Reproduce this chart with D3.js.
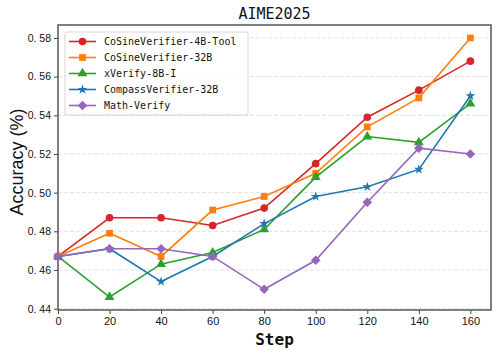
<!DOCTYPE html>
<html>
<head>
<meta charset="utf-8">
<script src="https://cdn.jsdelivr.net/npm/d3@7"></script>
<style>
  body { margin: 0; background: #fff; }
</style>
</head>
<body>
<div id="chart"></div>
<script>
// ---- data ----
const steps = [0, 20, 40, 60, 80, 100, 120, 140, 160];
const seriesNames = ["CoSineVerifier-4B-Tool", "CoSineVerifier-32B", "xVerify-8B-I", "CompassVerifier-32B", "Math-Verify"];
const cosine4bTool = [0.467, 0.487, 0.487, 0.483, 0.492, 0.515, 0.539, 0.553, 0.568];
const cosine32b    = [0.467, 0.479, 0.467, 0.491, 0.498, 0.510, 0.534, 0.549, 0.580];
const xverify8b    = [0.467, 0.446, 0.463, 0.469, 0.481, 0.508, 0.529, 0.526, 0.546];
const compass32b   = [0.467, 0.471, 0.454, 0.467, 0.484, 0.498, 0.503, 0.512, 0.550];
const mathVerify   = [0.467, 0.471, 0.471, 0.467, 0.450, 0.465, 0.495, 0.523, 0.520];
const yTicks = [0.44, 0.46, 0.48, 0.50, 0.52, 0.54, 0.56, 0.58];
const xTicks = [0, 20, 40, 60, 80, 100, 120, 140, 160];

const colors = ["#d62728", "#ff7f0e", "#2ca02c", "#1f77b4", "#9467bd"];

// square diamond (matplotlib "D")
const squareDiamond = {
  draw(ctx, size) {
    const r = Math.sqrt(size / 2);
    ctx.moveTo(0, -r); ctx.lineTo(r, 0); ctx.lineTo(0, r); ctx.lineTo(-r, 0); ctx.closePath();
  }
};
const symbols = [d3.symbolCircle, d3.symbolSquare, d3.symbolTriangle, d3.symbolStar, squareDiamond];
const symSizes = [46, 46, 42, 30, 46];
const allValues = [cosine4bTool, cosine32b, xverify8b, compass32b, mathVerify];

const series = seriesNames.map((name, i) => ({
  name: name,
  color: colors[i],
  symbol: symbols[i],
  size: symSizes[i],
  values: allValues[i].map((v, j) => ({x: steps[j], y: v}))
}));

// ---- layout ----
const width = 498, height = 353;
const margin = {top: 25, right: 7, bottom: 43, left: 58};
const monoFont = "'DejaVu Sans Mono', monospace";
const sansFont = "'Liberation Sans', Arial, sans-serif";

const svg = d3.create("svg")
  .attr("width", width)
  .attr("height", height);

const xScale = d3.scaleLinear()
  .domain([0, 168])
  .range([margin.left, width - margin.right]);

const yScale = d3.scaleLinear()
  .domain([0.4393, 0.5867])
  .range([height - margin.bottom, margin.top]);

// grid
svg.append("g")
  .selectAll("line")
  .data(yTicks)
  .join("line")
  .attr("x1", margin.left)
  .attr("x2", width - margin.right)
  .attr("y1", d => yScale(d))
  .attr("y2", d => yScale(d))
  .attr("stroke", "#d9d9d9")
  .attr("stroke-width", 0.8)
  .attr("stroke-dasharray", "4,2");

// axes
const xAxis = svg.append("g")
  .attr("transform", `translate(0, ${height - margin.bottom})`)
  .call(d3.axisBottom(xScale).tickValues(xTicks).tickSize(4).tickPadding(3));

const yAxis = svg.append("g")
  .attr("transform", `translate(${margin.left}, 0)`)
  .call(d3.axisLeft(yScale).tickValues(yTicks).tickSize(4).tickPadding(3)
    .tickFormat(d => d3.format(".2f")(d).replace(".", ". ")));

[xAxis, yAxis].forEach(ax => {
  ax.select(".domain").remove();
  ax.selectAll(".tick line").attr("stroke", "#444").attr("stroke-width", 1);
  ax.selectAll(".tick text")
    .attr("fill", "#111")
    .attr("font-family", sansFont)
    .attr("font-size", "11px");
});
yAxis.selectAll(".tick text").attr("font-size", "10.5px");

// frame
svg.append("rect")
  .attr("x", margin.left)
  .attr("y", margin.top)
  .attr("width", width - margin.left - margin.right)
  .attr("height", height - margin.top - margin.bottom)
  .attr("fill", "none")
  .attr("stroke", "#555")
  .attr("stroke-width", 1.5);

// lines + markers
const line = d3.line()
  .x(d => xScale(d.x))
  .y(d => yScale(d.y));

const groups = svg.append("g")
  .selectAll("g")
  .data(series)
  .join("g");

groups.append("path")
  .attr("d", d => line(d.values))
  .attr("fill", "none")
  .attr("stroke", d => d.color)
  .attr("stroke-width", 1.6);

groups.each(function(s) {
  d3.select(this).selectAll("path.mk")
    .data(s.values)
    .join("path")
    .attr("class", "mk")
    .attr("transform", d => `translate(${xScale(d.x)}, ${yScale(d.y)})`)
    .attr("d", d3.symbol().type(s.symbol).size(s.size))
    .attr("fill", s.color);
});

// legend
const legend = svg.append("g").attr("transform", "translate(65, 32)");
legend.append("rect")
  .attr("width", 183)
  .attr("height", 83)
  .attr("rx", 2)
  .attr("fill", "#fff")
  .attr("fill-opacity", 0.85)
  .attr("stroke", "#ccc")
  .attr("stroke-width", 0.8);

const items = legend.selectAll("g.item")
  .data(series)
  .join("g")
  .attr("class", "item")
  .attr("transform", (d, i) => `translate(0, ${9.5 + i * 16})`);

items.append("line")
  .attr("x1", 4).attr("x2", 31)
  .attr("stroke", d => d.color)
  .attr("stroke-width", 1.6);

items.append("path")
  .attr("transform", "translate(17.5, 0)")
  .attr("d", d => d3.symbol().type(d.symbol).size(d.size)())
  .attr("fill", d => d.color);

items.append("text")
  .attr("x", 39)
  .attr("dy", "0.35em")
  .attr("font-family", monoFont)
  .attr("font-size", "10px")
  .attr("fill", "#111")
  .text(d => d.name);

// titles
svg.append("text")
  .attr("x", (margin.left + width - margin.right) / 2)
  .attr("y", 19)
  .attr("text-anchor", "middle")
  .attr("font-family", monoFont)
  .attr("font-size", "15px")
  .attr("fill", "#111")
  .text("AIME2025");

svg.append("text")
  .attr("x", (margin.left + width - margin.right) / 2)
  .attr("y", height - 8)
  .attr("text-anchor", "middle")
  .attr("font-family", monoFont)
  .attr("font-size", "16px")
  .attr("font-weight", "bold")
  .attr("fill", "#111")
  .text("Step");

svg.append("text")
  .attr("transform", `translate(23, 162) rotate(-90)`)
  .attr("text-anchor", "middle")
  .attr("font-family", sansFont)
  .attr("font-size", "18px")
  .attr("fill", "#111")
  .text("Accuracy (%)");

document.getElementById("chart").appendChild(svg.node());
</script>
</body>
</html>
